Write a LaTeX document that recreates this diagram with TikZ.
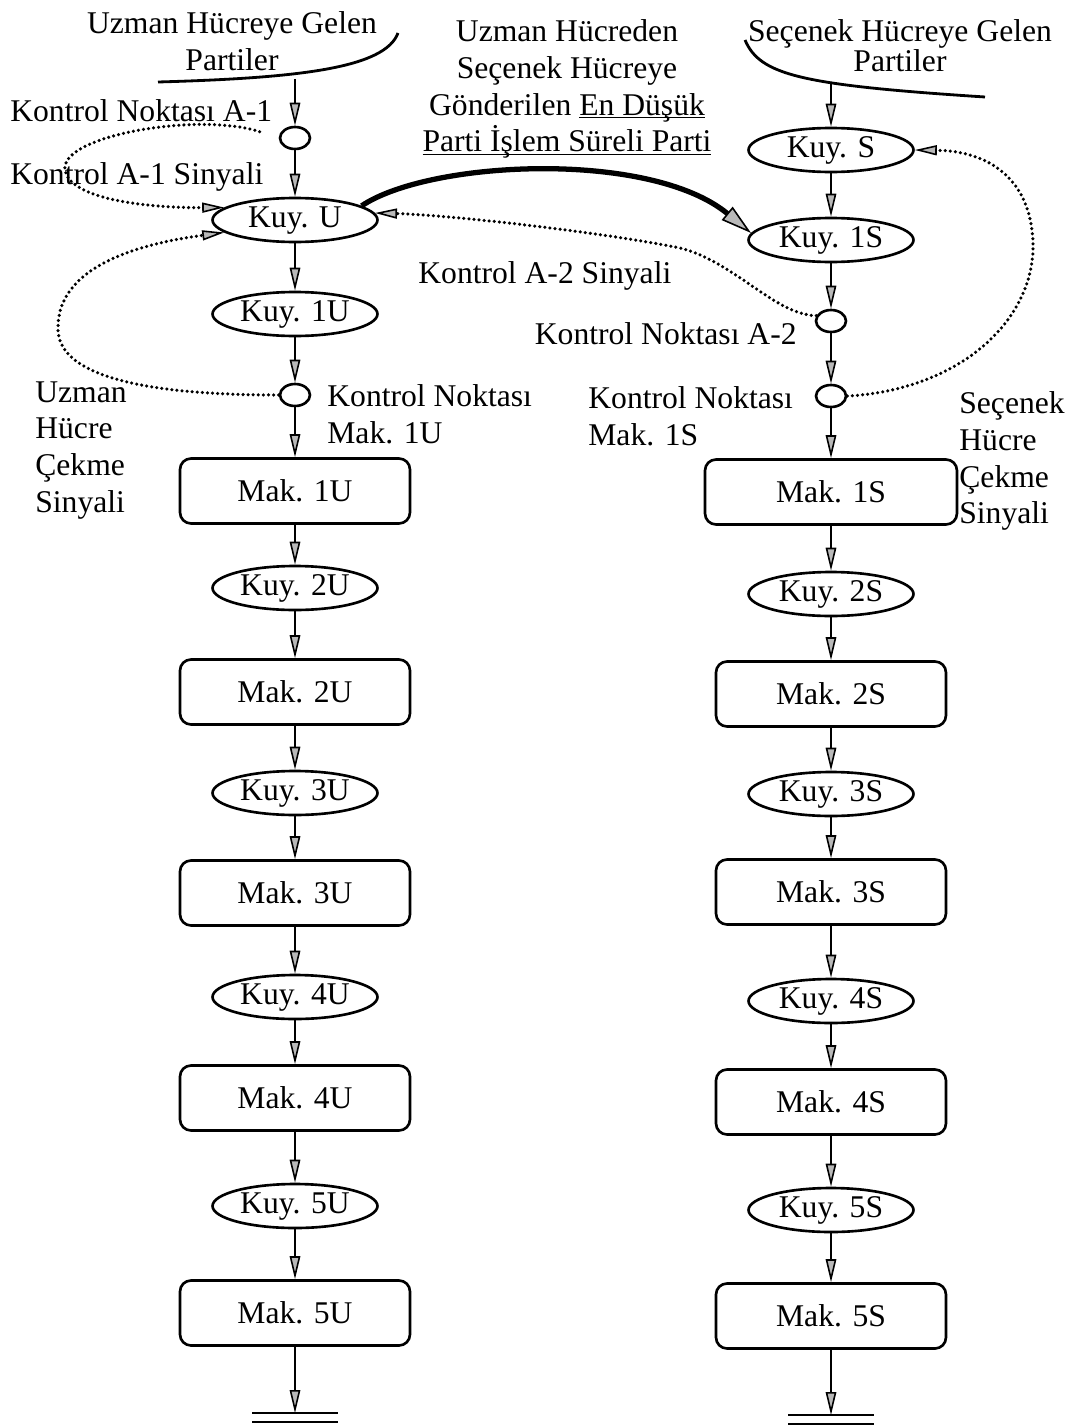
\documentclass[tikz,border=0pt]{standalone}
\usepackage{fontspec}
\setmainfont{Liberation Serif}
\usetikzlibrary{arrows.meta,shapes.geometric}

\tikzset{
  kuy/.style={draw, ellipse, line width=1.5pt, minimum width=3.3cm, minimum height=0.88cm, inner sep=0pt, text height=0.8em, text depth=0pt},
  mak/.style={draw, rounded corners=0.22cm, line width=1.5pt, minimum width=4.6cm, minimum height=1.3cm},
  nokta/.style={draw, ellipse, line width=1.5pt, minimum width=0.6cm, minimum height=0.44cm, inner sep=0pt},
  akis/.style={line width=1.6pt, -{Triangle[length=0.46cm, width=0.21cm, fill=gray!55, line width=0.9pt]}},
  kalin/.style={line width=3pt, -{Triangle[length=0.62cm, width=0.34cm, fill=gray!55, line width=0.9pt]}},
  sinyal/.style={line width=2pt, line cap=round, dash pattern=on 0pt off 2.9pt,
    -{Triangle[length=0.44cm, width=0.2cm, fill=gray!55, line width=0.9pt, line cap=butt]}},
  yazi/.style={inner sep=0pt, align=left, anchor=north west},
}

\begin{document}
\begin{tikzpicture}[x=0.02cm, y=-0.02cm, font=\fontsize{18}{21}\selectfont]
\useasboundingbox (0,0) rectangle (1077,1426);

% basliklar
\node[inner sep=0pt, align=center, anchor=north] (uzGel) at (232,11) {Uzman Hücreye Gelen\\Partiler};
\node[inner sep=0pt, align=center, anchor=north] (gonder) at (567,19)
  {Uzman Hücreden\\Seçenek Hücreye\\Gönderilen \underline{\smash{En Düşük}}\\\underline{\smash{Parti İşlem Süreli Parti}}};
\node[inner sep=0pt, align=center, anchor=north] (secGel) at (900,19) {Seçenek Hücreye Gelen\\[-4pt]Partiler};

% giris egrileri
\draw[line width=1.6pt] (158,82) .. controls (300,78) and (385,68) .. (398,33);
\draw[line width=1.6pt] (745,40) .. controls (760,75) and (800,85) .. (985,97);
\coordinate (girU) at (295,79);
\coordinate (girS) at (831,84);

% uzman hucre
\node[nokta] (nA1) at (295,138) {};
\node[kuy] (kuyU) at (295,220) {Kuy. U};
\node[kuy] (kuy1U) at (295,314) {Kuy. 1U};
\node[nokta] (n1U) at (295,395) {};
\node[mak] (mak1U) at (295,491) {Mak. 1U};
\node[kuy] (kuy2U) at (295,588) {Kuy. 2U};
\node[mak] (mak2U) at (295,692) {Mak. 2U};
\node[kuy] (kuy3U) at (295,793) {Kuy. 3U};
\node[mak] (mak3U) at (295,893) {Mak. 3U};
\node[kuy] (kuy4U) at (295,997) {Kuy. 4U};
\node[mak] (mak4U) at (295,1098) {Mak. 4U};
\node[kuy] (kuy5U) at (295,1206) {Kuy. 5U};
\node[mak] (mak5U) at (295,1313) {Mak. 5U};
\coordinate (sonU) at (295,1413);

% secenek hucre
\node[kuy] (kuyS) at (831,150) {Kuy. S};
\node[kuy] (kuy1S) at (831,240) {Kuy. 1S};
\node[nokta] (nA2) at (831,321) {};
\node[nokta] (n1S) at (831,396) {};
\node[mak, minimum width=5.04cm] (mak1S) at (831,492) {Mak. 1S};
\node[kuy] (kuy2S) at (831,594) {Kuy. 2S};
\node[mak] (mak2S) at (831,694) {Mak. 2S};
\node[kuy] (kuy3S) at (831,794) {Kuy. 3S};
\node[mak] (mak3S) at (831,892) {Mak. 3S};
\node[kuy] (kuy4S) at (831,1001) {Kuy. 4S};
\node[mak] (mak4S) at (831,1102) {Mak. 4S};
\node[kuy] (kuy5S) at (831,1210) {Kuy. 5S};
\node[mak] (mak5S) at (831,1316) {Mak. 5S};
\coordinate (sonS) at (831,1415);

% etiketler
\node[inner sep=0pt, anchor=base west] (lA1) at (10,121) {Kontrol Noktası A-1};
\node[inner sep=0pt, anchor=base west] (lSinA1) at (10,184) {Kontrol A-1 Sinyali};
\node[inner sep=0pt, anchor=base west] (lSinA2) at (418,283) {Kontrol A-2 Sinyali};
\node[inner sep=0pt, anchor=base east] (lA2) at (797,344) {Kontrol Noktası A-2};
\node[yazi] (l1U) at (327,384) {Kontrol Noktası\\Mak. 1U};
\node[yazi] (l1S) at (588,386) {Kontrol Noktası\\Mak. 1S};
\node[yazi] (lCekU) at (35,381) {Uzman\\Hücre\\Çekme\\Sinyali};
\node[yazi] (lCekS) at (959,391) {Seçenek\\Hücre\\Çekme\\Sinyali};

% akis oklari
\draw[akis] (girU) -- (nA1);
\draw[akis] (nA1) -- (kuyU);
\draw[akis] (kuyU) -- (kuy1U);
\draw[akis] (kuy1U) -- (n1U);
\draw[akis] (n1U) -- (mak1U);
\draw[akis] (mak1U) -- (kuy2U);
\draw[akis] (kuy2U) -- (mak2U);
\draw[akis] (mak2U) -- (kuy3U);
\draw[akis] (kuy3U) -- (mak3U);
\draw[akis] (mak3U) -- (kuy4U);
\draw[akis] (kuy4U) -- (mak4U);
\draw[akis] (mak4U) -- (kuy5U);
\draw[akis] (kuy5U) -- (mak5U);
\draw[akis] (mak5U) -- (sonU);

\draw[akis] (girS) -- (kuyS);
\draw[akis] (kuyS) -- (kuy1S);
\draw[akis] (kuy1S) -- (nA2);
\draw[akis] (nA2) -- (n1S);
\draw[akis] (n1S) -- (mak1S);
\draw[akis] (mak1S) -- (kuy2S);
\draw[akis] (kuy2S) -- (mak2S);
\draw[akis] (mak2S) -- (kuy3S);
\draw[akis] (kuy3S) -- (mak3S);
\draw[akis] (mak3S) -- (kuy4S);
\draw[akis] (kuy4S) -- (mak4S);
\draw[akis] (mak4S) -- (kuy5S);
\draw[akis] (kuy5S) -- (mak5S);
\draw[akis] (mak5S) -- (sonS);

% cikis cizgileri
\draw[line width=1.6pt] ([xshift=-0.86cm]sonU) -- ([xshift=0.86cm]sonU);
\draw[line width=1.6pt] ([xshift=-0.86cm, yshift=-0.18cm]sonU) -- ([xshift=0.86cm, yshift=-0.18cm]sonU);
\draw[line width=1.6pt] ([xshift=-0.86cm]sonS) -- ([xshift=0.86cm]sonS);
\draw[line width=1.6pt] ([xshift=-0.86cm, yshift=-0.18cm]sonS) -- ([xshift=0.86cm, yshift=-0.18cm]sonS);

% parti transferi
\draw[kalin] (kuyU.12) .. controls (430,160) and (650,150) .. (kuy1S.175);

% sinyaller
\draw[sinyal, shorten <=0.4cm] (nA1.west) .. controls (200,112) and (60,135) .. (65,170)
  .. controls (70,200) and (150,208) .. (kuyU.170);
\draw[sinyal] (n1U.west) .. controls (180,395) and (60,385) .. (58,330)
  .. controls (56,270) and (130,245) .. (kuyU.190);
\draw[sinyal] (nA2.160) .. controls (775,315) and (735,262) .. (680,248)
  .. controls (600,232) and (450,215) .. (kuyU.5);
\draw[sinyal] (n1S.east) .. controls (960,390) and (1035,320) .. (1033,243)
  .. controls (1031,180) and (990,151) .. (kuyS.east);
\end{tikzpicture}
\end{document}
